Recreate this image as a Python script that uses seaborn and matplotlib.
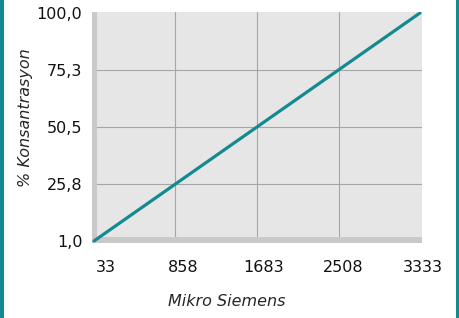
import matplotlib
matplotlib.use("Agg")
import matplotlib.pyplot as plt
import matplotlib.patches as mpatches
import matplotlib.transforms as mtransforms
import pandas as pd
import seaborn as sns

# data
mikro_siemens = [33, 3333]
konsantrasyon = [1.0, 100.0]
x_ticks = [33, 858, 1683, 2508, 3333]
y_ticks = [1.0, 25.8, 50.5, 75.3, 100.0]
y_tick_labels = ["1,0", "25,8", "50,5", "75,3", "100,0"]

df = pd.DataFrame({"x": mikro_siemens, "y": konsantrasyon})

sns.set_style("white")
plt.rcParams["font.family"] = ["DejaVu Sans"]

teal = "#148a90"
fs = 11.5
fig = plt.figure(figsize=(4.6, 3.18), dpi=100)
ax = fig.add_axes([92 / 460, 75 / 318, 330 / 460, 231 / 318])
ax.set_facecolor("#e6e6e6")

sns.lineplot(data=df, x="x", y="y", color=teal, linewidth=2.3, ax=ax, zorder=5)

ax.set_xlim(13, 3353)
ax.set_ylim(0.13, 100.4)

# grid lines (inner ones only)
for v in x_ticks[1:-1]:
    ax.axvline(v, color="#a6a6a6", linewidth=0.8, zorder=1)
for v in y_ticks[1:-1]:
    ax.axhline(v, color="#a6a6a6", linewidth=0.8, zorder=1)

# gray wall + floor
ax.add_patch(mpatches.Rectangle((0, 0), 5 / 330, 1, transform=ax.transAxes,
                                color="#c9c9c9", zorder=2, lw=0))
ax.add_patch(mpatches.Rectangle((0, 0), 1, 6 / 231, transform=ax.transAxes,
                                color="#c9c9c9", zorder=2, lw=0))

ax.set_xticks(x_ticks)
ax.set_xticklabels([str(v) for v in x_ticks])
ax.set_yticks(y_ticks)
ax.set_yticklabels(y_tick_labels)
ax.tick_params(axis="x", length=0, pad=12.5, labelsize=fs, colors="#111111")
ax.tick_params(axis="y", length=0, pad=7, labelsize=fs, colors="#111111")
for s in ax.spines.values():
    s.set_visible(False)

# x tick labels sit a little to the right of their grid lines
shifts = [11.5, 8, 7, 5, 3]
for lab, dx in zip(ax.get_xticklabels(), shifts):
    lab.set_transform(lab.get_transform() +
                      mtransforms.ScaledTranslation(dx / 100, 0, fig.dpi_scale_trans))

ax.set_xlabel("Mikro Siemens", fontstyle="italic", fontsize=fs)
ax.xaxis.set_label_coords((226.5 - 92) / 330, (243 - 302) / 231)
ax.xaxis.label.set_va("center")
ax.set_ylabel("% Konsantrasyon", fontstyle="italic", fontsize=fs)
ax.yaxis.set_label_coords((25.5 - 92) / 330, (243 - 118) / 231)
ax.yaxis.label.set_va("center")

# teal side borders
fig.patches.append(mpatches.Rectangle((0, 0), 4 / 460, 1, transform=fig.transFigure,
                                      color=teal, lw=0))
fig.patches.append(mpatches.Rectangle((456 / 460, 0), 4 / 460, 1, transform=fig.transFigure,
                                      color=teal, lw=0))

fig.savefig("out.png", dpi=100)
